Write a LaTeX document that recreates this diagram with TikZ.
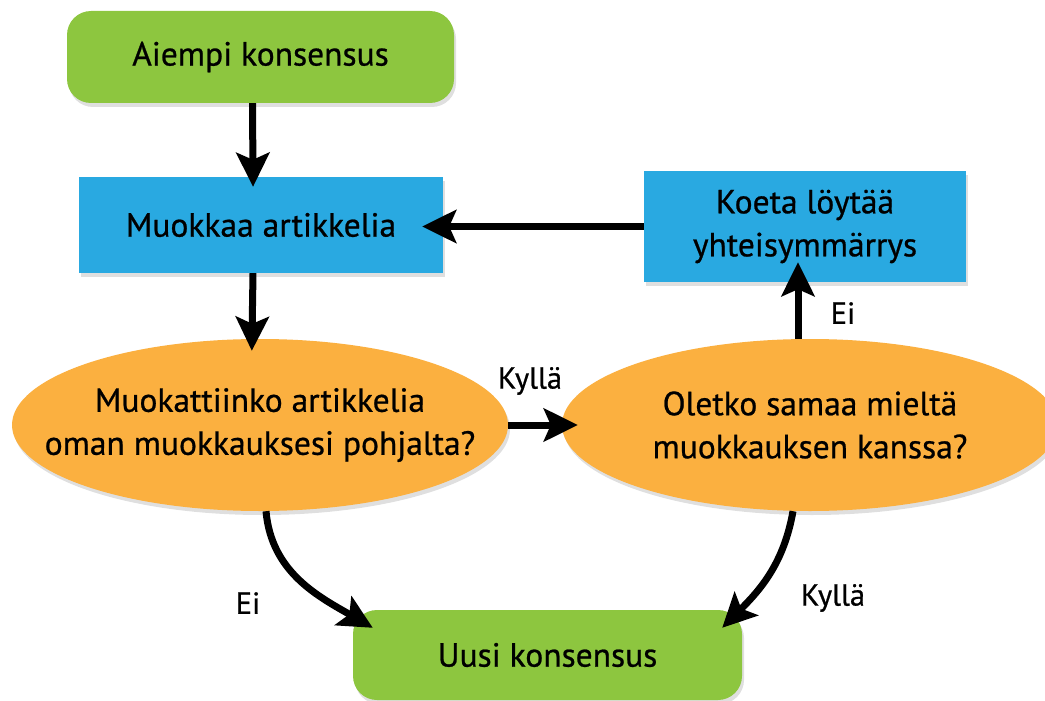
\documentclass[tikz,border=0pt]{standalone}
\usepackage{fontspec}
\setmainfont{PT Sans}[FakeBold=0.7]
\usetikzlibrary{arrows.meta,shapes.geometric,shadows}
\definecolor{cgreen}{HTML}{8DC63F}
\definecolor{cblue}{HTML}{29A9E1}
\definecolor{corange}{HTML}{FBB040}
\begin{document}
\begin{tikzpicture}[x=1pt,y=-1pt,
  every node/.style={align=center, text=black},
  txt/.style={font=\fontsize{33.5}{43}\selectfont},
  shad/.style={drop shadow={shadow xshift=2pt,shadow yshift=-4pt,opacity=0.25}},
  term/.style={txt, shad, fill=cgreen, rounded corners=24pt, inner sep=0pt},
  proc/.style={txt, shad, fill=cblue, inner sep=0pt},
  dec/.style={shad, ellipse, fill=corange, inner sep=0pt},
  dectext/.style={label={[txt, align=center]center:#1}},
  arr/.style={line width=7pt, -{Stealth[length=34pt,width=33pt,inset=7pt]}},
  lab/.style={font=\fontsize{30.5}{32}\selectfont}]
\useasboundingbox (0,0) rectangle (1045,701);

\node[term, minimum width=387pt, minimum height=92pt] (a) at (260.5,57) {Aiempi konsensus};
\node[proc, minimum width=364pt, minimum height=96pt] (m) at (261,225) {Muokkaa artikkelia};
\node[proc, minimum width=322pt, minimum height=111pt] (k) at (805,226.5) {Koeta löytää\\yhteisymmärrys};
\node[dec, minimum width=496pt, minimum height=172pt,
  dectext={Muokattiinko artikkelia\\oman muokkauksesi pohjalta?}] (q1) at (260,425) {};
\node[dec, minimum width=496pt, minimum height=172pt,
  dectext={Oletko samaa mieltä\\muokkauksen kanssa?}] (q2) at (810,425) {};
\node[term, minimum width=389pt, minimum height=90pt] (u) at (547.5,655) {Uusi konsensus};

\draw[arr, shorten >=-10pt] ([xshift=-8pt]a.south) -- ([xshift=-8pt]m.north);
\draw[arr, shorten >=-12pt] ([xshift=-8pt]m.south) -- ([xshift=-8pt]q1.north);
\draw[arr, shorten >=-16pt] (q1.east) -- (q2.west);
\draw[arr, shorten >=-20pt] ([xshift=-12pt]q2.north) -- ([xshift=-12pt]q2.north |- k.south);
\draw[arr, shorten >=-21pt] (k.west) -- (k.west -| m.east);
\draw[arr] ([xshift=6pt]q1.south) to[out=-85,in=150] ([xshift=20pt,yshift=-18pt]u.north west);
\draw[arr] ([xshift=-17pt]q2.south) to[out=-100,in=45] ([xshift=-20pt,yshift=-18pt]u.north east);

\node[lab] (l1) at (530,381) {Kyllä};
\node[lab] (l2) at (843,313) {Ei};
\node[lab] (l3) at (248,603) {Ei};
\node[lab] (l4) at (833,598) {Kyllä};
\end{tikzpicture}
\end{document}
